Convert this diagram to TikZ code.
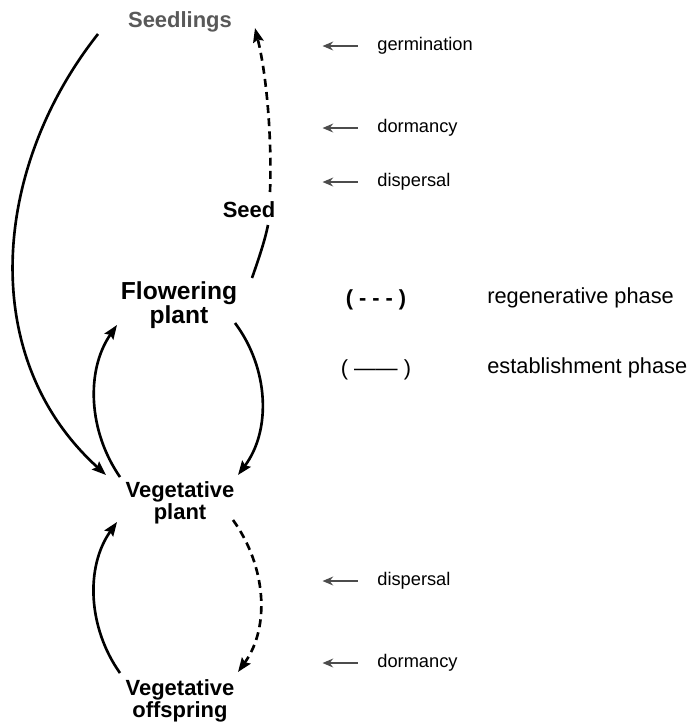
\documentclass[tikz,border=0pt]{standalone}
\usepackage{fontspec}
\setmainfont{Liberation Sans}
\usetikzlibrary{arrows.meta}
\tikzset{
  stage/.style={font=\fontsize{12.5}{12.5}\selectfont\bfseries, align=center, inner sep=1pt},
  phase/.style={line width=1.5pt, -{Stealth[length=8pt,width=6pt,inset=1.2pt]}},
  regen/.style={phase, dash pattern=on 4.5pt off 3pt},
  tag/.style={font=\fontsize{10.4}{12}\selectfont, anchor=west, inner sep=0pt},
  pointer/.style={draw=black!70, line width=1.4pt, -{Stealth[length=6pt,width=5pt]}},
  legend/.style={font=\fontsize{12.4}{14}\selectfont, inner sep=0pt}
}

\begin{document}
\begin{tikzpicture}[x=0.02cm,y=-0.02cm]
    \useasboundingbox (0,0) rectangle (694,725);
    \node[stage, text=black!65] (seedlings) at (180,22) {Seedlings};
    \node[stage] (seed) at (249,210) {Seed};
    \node[stage, font=\fontsize{14}{13.6}\selectfont\bfseries] (flowering) at (179,305) {Flowering\\plant};
    \node[stage] (vegplant) at (180,503) {Vegetative\\plant};
    \node[stage] (vegoff) at (180,701) {Vegetative\\offspring};

    \draw[phase] ([shift={(-82,12)}]seedlings.center) .. controls (-8,168) and (-23.5,357.75) .. ([shift={(-74,-28)}]vegplant.center);
    \draw[line width=1.5pt] ([shift={(73,-27)}]flowering.center) .. controls (259,258) and (265,240) .. ([shift={(19,15)}]seed.center);
    \draw[regen] ([shift={(21,-18)}]seed.center) .. controls (272,140) and (267,76.5) .. ([shift={(75,6)}]seedlings.center);
    \draw[phase] ([shift={(56,18)}]flowering.center) .. controls (268.7,368) and (271.7,430) .. ([shift={(58,-28)}]vegplant.center);
    \draw[phase] ([shift={(-60,-26)}]vegplant.center) .. controls (88.4,431.5) and (85.4,370.5) .. ([shift={(-62,20)}]flowering.center);
    \draw[regen] ([shift={(53,17)}]vegplant.center) .. controls (265.8,565.4) and (270.8,626.6) .. ([shift={(58,-29)}]vegoff.center);
    \draw[phase] ([shift={(-60,-28)}]vegoff.center) .. controls (88,628) and (85,567) .. ([shift={(-63,19)}]vegplant.center);

    \node[tag] (germ) at (377,46) {germination};
    \node[tag] (dormseed) at (377,128) {dormancy};
    \node[tag] (dispseed) at (377,182) {dispersal};
    \node[tag] (dispveg) at (377,581) {dispersal};
    \node[tag] (dormveg) at (377,663) {dormancy};
    \foreach \t in {germ,dormseed,dispseed,dispveg,dormveg}
        \draw[pointer] ([xshift=-11pt]\t.west) -- ([xshift=-31pt]\t.west);

    \node[legend, font=\fontsize{12.4}{14}\selectfont\bfseries] (regkey) at (376,300) {( - - - )};
    \node[legend, anchor=west] (regtext) at (487,298) {regenerative phase};
    \node[legend] (estkey) at (376,370) {( —— )};
    \node[legend, anchor=west] (esttext) at (487,368) {establishment phase};
\end{tikzpicture}
\end{document}
